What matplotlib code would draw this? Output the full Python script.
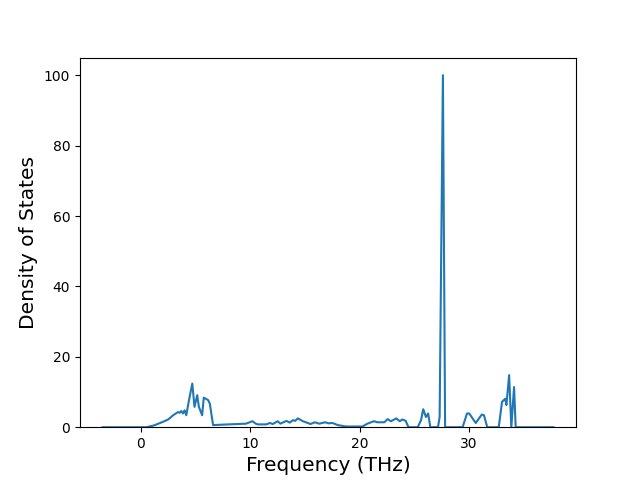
import matplotlib
matplotlib.use("Agg")
import matplotlib.pyplot as plt

freq = [-3.5, 0.5, 1.2, 2.0, 2.5, 2.95, 3.4, 3.55, 3.7, 3.85, 4.0, 4.15, 4.4, 4.7, 4.9,
        5.15, 5.3, 5.6, 5.75, 6.15, 6.3, 6.6, 8.0, 9.6, 10.2, 10.5, 10.7, 11.45, 11.8,
        12.05, 12.5, 12.75, 13.3, 13.6, 13.9, 14.1, 14.35, 14.8, 15.25, 15.5, 15.9,
        16.3, 16.85, 17.15, 17.5, 18.0, 18.75, 20.25, 20.7, 21.3, 21.6, 22.25, 22.55,
        22.85, 23.35, 23.65, 23.9, 24.2, 24.45, 25.3, 25.6, 25.8, 26.05, 26.25, 26.45,
        27.15, 27.3, 27.6, 27.8, 29.4, 29.8, 30.0, 30.6, 31.15, 31.35, 31.65, 32.7,
        33.0, 33.3, 33.4, 33.65, 33.85, 34.1, 34.25, 37.7]
dos = [0.0, 0.0, 0.5, 1.5, 2.2, 3.4, 4.3, 4.1, 4.6, 3.9, 4.8, 3.4, 7.7, 12.4, 5.8,
       9.1, 5.8, 3.4, 8.4, 7.7, 6.7, 0.6, 0.8, 1.0, 1.7, 1.0, 0.8, 0.8, 1.2,
       0.9, 1.7, 1.0, 1.8, 1.3, 2.0, 1.8, 2.5, 1.7, 1.2, 0.9, 1.4,
       1.0, 1.4, 1.1, 1.2, 0.6, 0.2, 0.2, 1.0, 1.7, 1.4, 1.4, 2.3,
       1.7, 2.5, 1.7, 2.2, 1.8, 0.0, 0.0, 2.0, 5.1, 2.9, 3.9, 0.0,
       0.0, 2.9, 100.0, 0.0, 0.0, 3.9, 3.9, 1.2, 3.6, 3.4, 0.0, 0.0,
       7.2, 8.1, 6.3, 14.8, 0.0, 11.4, 0.0, 0.0]

fig, ax = plt.subplots(figsize=(6.4, 4.8), dpi=100)
ax.plot(freq, dos, color="tab:blue", linewidth=1.5)
ax.set_ylim(bottom=0)
ax.set_xlabel("Frequency (THz)", fontsize=14.5)
ax.set_ylabel("Density of States", fontsize=14.5)
fig.savefig("out.png", dpi=100)
